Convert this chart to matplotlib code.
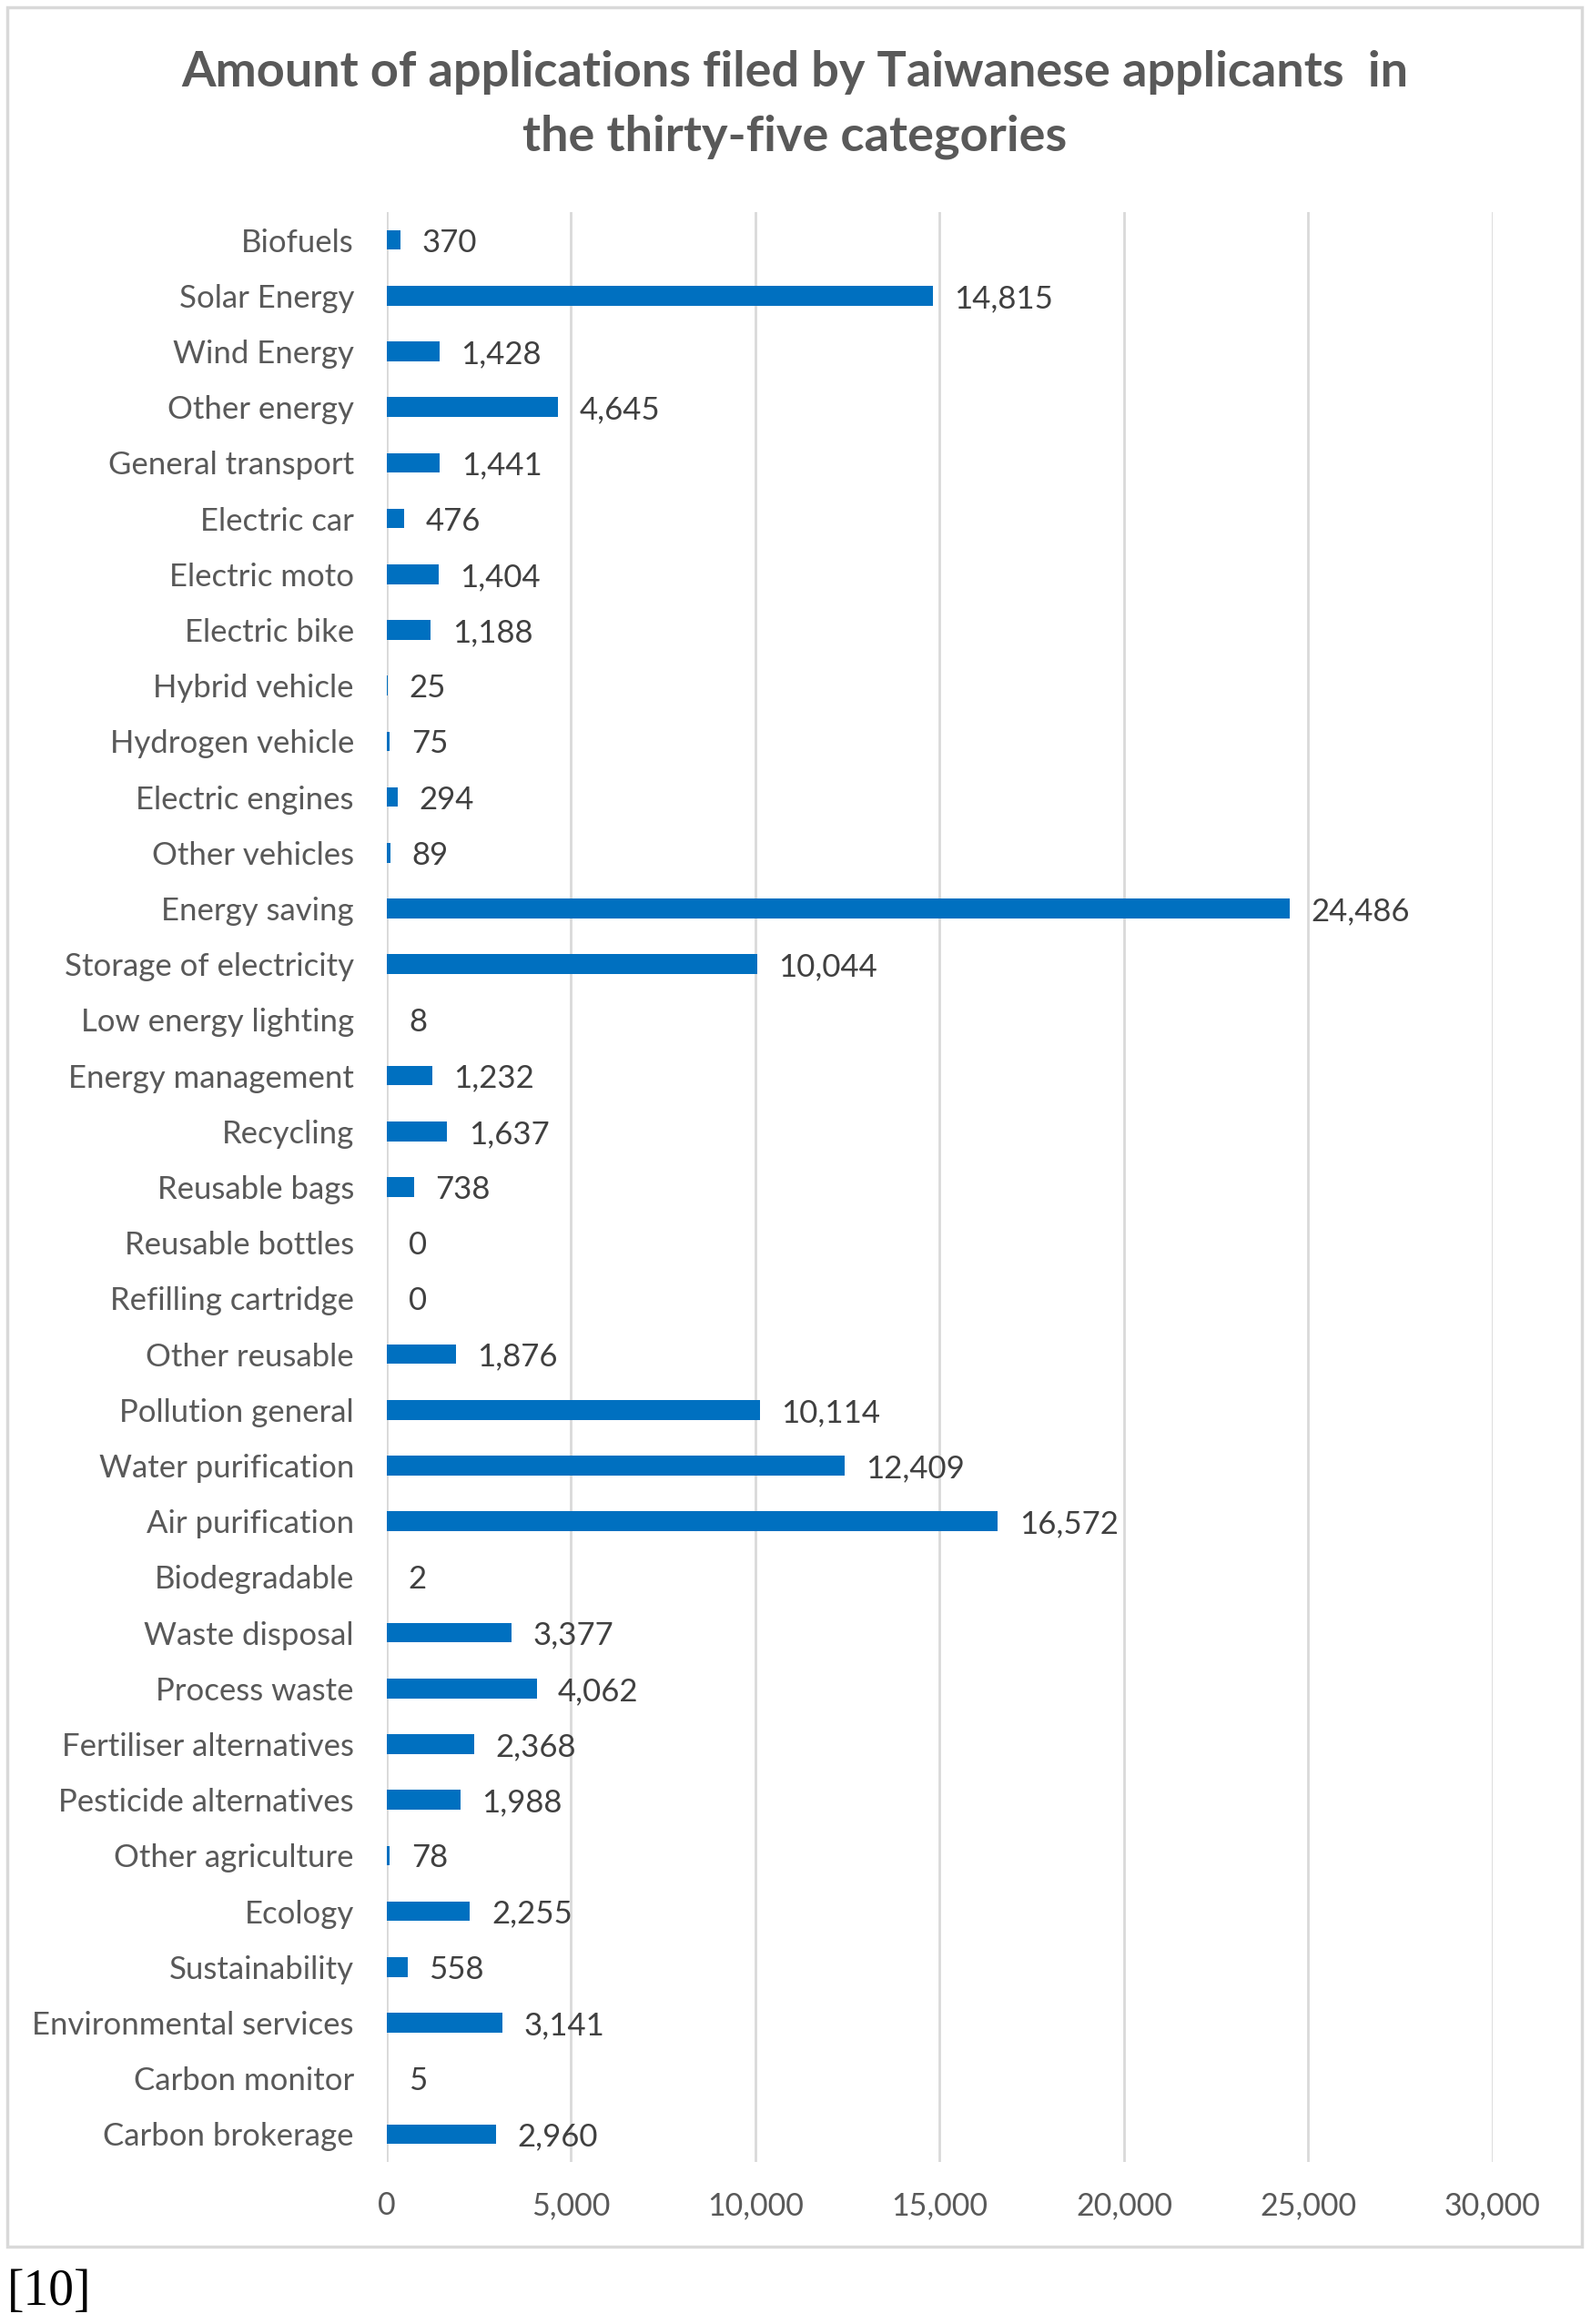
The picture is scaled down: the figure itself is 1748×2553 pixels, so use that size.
import matplotlib
matplotlib.use("Agg")
import matplotlib.pyplot as plt
from matplotlib.patches import Rectangle

categories = [
    "Biofuels", "Solar Energy", "Wind Energy", "Other energy", "General transport",
    "Electric car", "Electric moto", "Electric bike", "Hybrid vehicle", "Hydrogen vehicle",
    "Electric engines", "Other vehicles", "Energy saving", "Storage of electricity",
    "Low energy lighting", "Energy management", "Recycling", "Reusable bags",
    "Reusable bottles", "Refilling cartridge", "Other reusable", "Pollution general",
    "Water purification", "Air purification", "Biodegradable", "Waste disposal",
    "Process waste", "Fertiliser alternatives", "Pesticide alternatives",
    "Other agriculture", "Ecology", "Sustainability", "Environmental services",
    "Carbon monitor", "Carbon brokerage",
]
values = [
    370, 14815, 1428, 4645, 1441, 476, 1404, 1188, 25, 75, 294, 89, 24486, 10044,
    8, 1232, 1637, 738, 0, 0, 1876, 10114, 12409, 16572, 2, 3377, 4062, 2368, 1988,
    78, 2255, 558, 3141, 5, 2960,
]
xticks = [0, 5000, 10000, 15000, 20000, 25000, 30000]

title = "Amount of applications filed by Taiwanese applicants  in\nthe thirty-five categories"

W, H = 1749, 2553
fig = plt.figure(figsize=(W / 100, H / 100), dpi=100)
plt.rcParams['font.family'] = ['Lato', 'DejaVu Sans']

# chart frame
fig.patches.append(Rectangle((8 / W, 1 - 2468 / H), 1730 / W, 2460 / H,
                             transform=fig.transFigure, fill=False,
                             edgecolor='#D9D9D9', linewidth=2.5))

ax = fig.add_axes([425 / W, 1 - 2375 / H, 1215 / W, (2375 - 233) / H])
pos = list(range(len(categories)))
ax.barh(pos, values, height=0.35, color='#0070C0', linewidth=0, zorder=3)
ax.set_ylim(len(categories) - 0.5, -0.5)
ax.set_xlim(0, 30000)
ax.set_yticks(pos)
ax.set_yticklabels(categories, fontsize=25, color='#595959')
ax.set_xticks(xticks)
ax.set_xticklabels([f"{t:,}" for t in xticks], fontsize=24.5, color='#595959')
ax.tick_params(axis='y', length=0, pad=26)
ax.tick_params(axis='x', length=0, pad=23)
for s in ax.spines.values():
    s.set_visible(False)
ax.grid(axis='x', color='#D9D9D9', linewidth=2)
ax.set_axisbelow(True)

for p, v in zip(pos, values):
    ax.annotate(f"{v:,}", (v, p + 0.05), xytext=(17, 0), textcoords='offset points',
                va='center', ha='left', fontsize=25, color='#404040')

fig.text(873 / W, 1 - 115 / H, title, ha='center', va='center', fontsize=39,
         fontweight='bold', color='#595959', linespacing=1.55)

fig.text(8 / W, 1 - 2518 / H, "[10]", ha='left', va='center', fontsize=40,
         family='Liberation Serif', color='black')

fig.savefig("out.png", dpi=100)
